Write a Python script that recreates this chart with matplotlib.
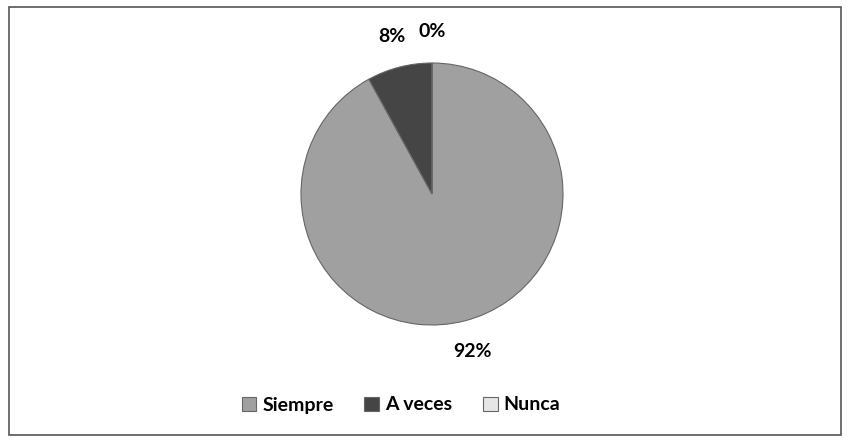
import matplotlib.pyplot as plt
from matplotlib.patches import Rectangle

# data
categories = ['Siempre', 'A veces', 'Nunca']
values = [92, 8, 0]
colors = ['#a0a0a0', '#454545', '#e6e6e6']

fig = plt.figure(figsize=(8.48, 4.43), dpi=100)
plt.rcParams['font.family'] = ['Lato', 'DejaVu Sans']

# outer frame of the chart area
fig.patches.append(Rectangle((9 / 848, 8 / 443), 832 / 848, 428 / 443,
                             transform=fig.transFigure, fill=False,
                             edgecolor='#555555', linewidth=1.2))

ax = fig.add_axes([(432 - 131) / 848, 1 - (194 + 131) / 443, 262 / 848, 262 / 443])
wedges, texts, autotexts = ax.pie(values, colors=colors, startangle=90, counterclock=False,
                                  autopct='%1.0f%%', pctdistance=1.24,
                                  wedgeprops={'edgecolor': '#666666', 'linewidth': 0.8},
                                  textprops={'fontsize': 14, 'fontweight': 'bold', 'color': 'black'})
ax.set_aspect('equal')
ax.set_xlim(-1, 1)
ax.set_ylim(-1, 1)

fig.legend(wedges, categories, loc='center', bbox_to_anchor=(401 / 848, 1 - 405 / 443),
           ncol=3, frameon=False, handlelength=0.75, handleheight=0.75,
           handletextpad=0.3, columnspacing=1.6,
           prop={'size': 14, 'weight': 'bold'})

fig.savefig('out.png', dpi=100)
